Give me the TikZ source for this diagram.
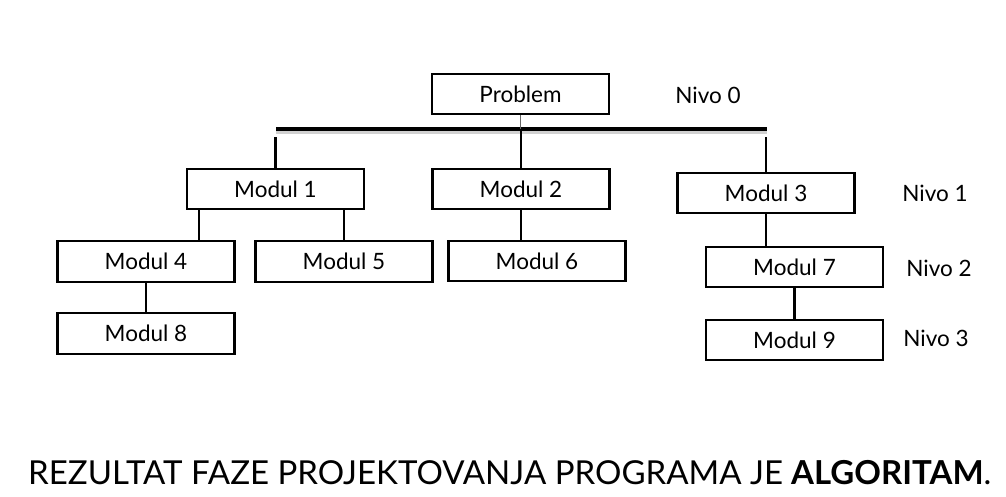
\documentclass[tikz,border=0pt]{standalone}
\usepackage{fontspec}
\setmainfont{Lato}
\begin{document}
\begin{tikzpicture}[x=1pt,y=-1pt,
  box/.style={draw=black,line width=2.2pt,fill=white,rectangle,inner sep=0pt,minimum width=177pt,minimum height=40pt,font=\fontsize{22.5}{26}\selectfont},
  lvl/.style={inner sep=0pt,font=\fontsize{22.5}{26}\selectfont},
  link/.style={draw=black,line width=2.2pt},
  thin/.style={draw=black!60,line width=1.4pt}]
\useasboundingbox (0,0) rectangle (1006,496);
\node[box] (P) at (520.5,94) {Problem};
\node[box] (M1) at (275.5,189) {Modul 1};
\node[box] (M2) at (521,189) {Modul 2};
\node[box] (M3) at (766,193) {Modul 3};
\node[box,minimum height=41pt] (M4) at (146,261.5) {Modul 4};
\node[box,minimum height=41pt] (M5) at (344,261.5) {Modul 5};
\node[box] (M6) at (537,261) {Modul 6};
\node[box] (M7) at (794.5,267) {Modul 7};
\node[box,minimum height=41pt] (M8) at (146,333.5) {Modul 8};
\node[box] (M9) at (794.5,340) {Modul 9};
\node[lvl] (N0) at (708,95) {Nivo 0};
\node[lvl] (N1) at (935,193) {Nivo 1};
\node[lvl] (N2) at (939,268) {Nivo 2};
\node[lvl] (N3) at (936,338) {Nivo 3};
\coordinate (bl) at (276,129);
\coordinate (br) at (767,129);
\coordinate (d1) at (275.5,137);
\coordinate (d3) at (766,137);
\coordinate (c14) at (199,241);
% bar with soft shadow
\draw[black!18,line width=3pt] ([yshift=-3pt]bl) -- ([yshift=-3pt]br);
\draw[black,line width=3.5pt] (bl) -- (br);
\draw[thin] (P.south) -- (P.south |- bl);
\draw[link] (d1) -- (M1.north);
\draw[link] (d3) -- (M3.north);
\draw[link] (M2.north) -- (M2.north |- bl);
\draw[link] (c14) -- (c14 |- M1.south);
\draw[link] (M5.north) -- (M5.north |- M1.south);
\draw[link] (M2.south) -- (M2.south |- M6.north);
\draw[link] (M4.south) -- (M8.north);
\draw[link] (M3.south) -- (M3.south |- M7.north);
\draw[link] (M7.south) -- (M9.north);
\node[anchor=base west,inner sep=0pt,font=\fontsize{33}{36}\selectfont] (T) at (28,484) {REZULTAT FAZE PROJEKTOVANJA PROGRAMA JE \textbf{ALGORITAM}.};
\end{tikzpicture}
\end{document}
